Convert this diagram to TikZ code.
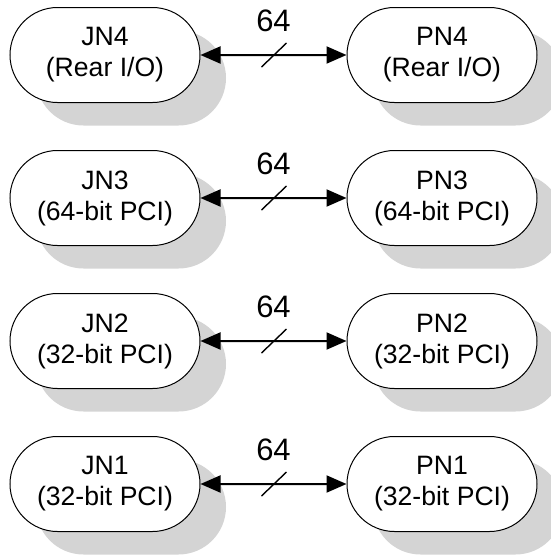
\documentclass[tikz,border=0pt]{standalone}
\usepackage{fontspec}
\setmainfont{Liberation Sans}
\usetikzlibrary{shapes.misc,shadows,arrows.meta,calc}

\tikzset{
  conn/.style={rounded rectangle, draw, line width=0.5pt, fill=white,
    minimum width=95pt, minimum height=47.5pt, inner sep=0pt, align=center,
    font=\fontsize{13.3}{15.5}\selectfont,
    drop shadow={shadow xshift=13pt, shadow yshift=-11.5pt, fill=black!17, opacity=1}},
  bus/.style={line width=1pt, {Triangle[length=10pt,width=8.5pt]}-{Triangle[length=10pt,width=8.5pt]}},
  width/.style={font=\fontsize{15.5}{18}\selectfont}
}

\begin{document}
\begin{tikzpicture}[x=0.5pt, y=-0.5pt]
  \useasboundingbox (0,0) rectangle (551,558);

  % J connectors (left) and P connectors (right)
  \node[conn] (jn4) at (105,55)  {JN4\\(Rear I/O)};
  \node[conn] (pn4) at (442,55)  {PN4\\(Rear I/O)};
  \node[conn] (jn3) at (105,198) {JN3\\(64-bit PCI)};
  \node[conn] (pn3) at (442,198) {PN3\\(64-bit PCI)};
  \node[conn] (jn2) at (105,341) {JN2\\(32-bit PCI)};
  \node[conn] (pn2) at (442,341) {PN2\\(32-bit PCI)};
  \node[conn] (jn1) at (105,484) {JN1\\(32-bit PCI)};
  \node[conn] (pn1) at (442,484) {PN1\\(32-bit PCI)};

  % Buses
  \draw[bus] (jn4) -- coordinate[midway] (m4) (pn4);
  \draw[bus] (jn3) -- coordinate[midway] (m3) (pn3);
  \draw[bus] (jn2) -- coordinate[midway] (m2) (pn2);
  \draw[bus] (jn1) -- coordinate[midway] (m1) (pn1);

  % Bus width marks
  \draw[line width=0.7pt] ($(m4)+(-12,12)$) -- ($(m4)+(13,-12)$);
  \draw[line width=0.7pt] ($(m3)+(-12,12)$) -- ($(m3)+(13,-12)$);
  \draw[line width=0.7pt] ($(m2)+(-12,12)$) -- ($(m2)+(13,-12)$);
  \draw[line width=0.7pt] ($(m1)+(-12,12)$) -- ($(m1)+(13,-12)$);
  \node[width] (w4) at ($(m4)+(0,-34)$) {64};
  \node[width] (w3) at ($(m3)+(0,-34)$) {64};
  \node[width] (w2) at ($(m2)+(0,-34)$) {64};
  \node[width] (w1) at ($(m1)+(0,-34)$) {64};
\end{tikzpicture}
\end{document}
